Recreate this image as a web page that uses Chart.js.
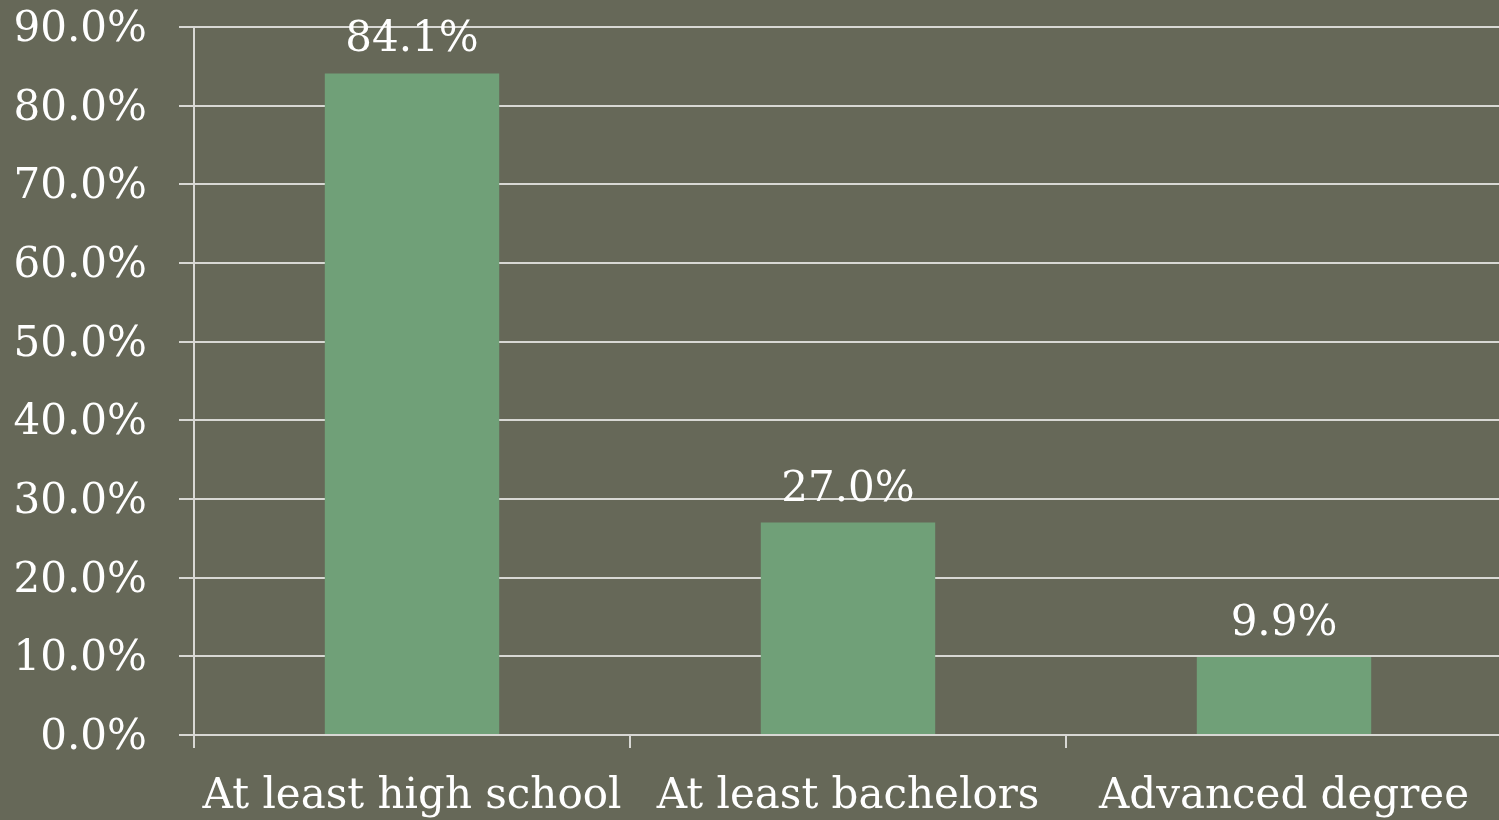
<!DOCTYPE html>
<html lang="en">
<head>
    <meta charset="UTF-8">
    <title>Educational attainment</title>
    <script src="https://cdn.jsdelivr.net/npm/chart.js"></script>
    <style>
        html, body { margin: 0; padding: 0; background: #666858; overflow: hidden; }
        .wrap { width: 1502px; height: 820px; }
    </style>
</head>
<body>
    <div class="wrap"><canvas id="eduChart"></canvas></div>

    <script>
        // 학력별 비율 데이터
        const categories = ['At least high school', 'At least bachelors', 'Advanced degree'];
        const shares = [84.1, 27.0, 9.9];
        const yTicks = [0, 10, 20, 30, 40, 50, 60, 70, 80, 90];

        const FONT = '"DejaVu Serif", serif';
        const gridColor = '#d8d8d4';

        // 막대 위에 값 표시
        const valueLabels = {
            id: 'valueLabels',
            afterDatasetsDraw(chart) {
                const ctx = chart.ctx;
                const meta = chart.getDatasetMeta(0);
                ctx.save();
                ctx.fillStyle = '#ffffff';
                ctx.font = '42px ' + FONT;
                ctx.textAlign = 'center';
                ctx.textBaseline = 'alphabetic';
                meta.data.forEach((bar, i) => {
                    ctx.fillText(shares[i].toFixed(1) + '%', bar.x, bar.y - 22);
                });
                ctx.restore();
            }
        };

        const ctx = document.getElementById('eduChart').getContext('2d');
        new Chart(ctx, {
            type: 'bar',
            data: {
                labels: categories,
                datasets: [{
                    data: shares,
                    backgroundColor: '#70a078',
                    categoryPercentage: 1.0,
                    barPercentage: 0.4
                }]
            },
            options: {
                responsive: true,
                maintainAspectRatio: false,
                animation: false,
                layout: { padding: { top: 27, right: 0, bottom: 0, left: 0 } },
                plugins: {
                    legend: { display: false },
                    tooltip: { enabled: false }
                },
                scales: {
                    x: {
                        offset: true,
                        grid: {
                            offset: true,
                            drawOnChartArea: false,
                            drawTicks: true,
                            tickLength: 13,
                            color: gridColor,
                            lineWidth: 2
                        },
                        border: { display: true, color: gridColor, width: 2 },
                        ticks: {
                            color: '#ffffff',
                            font: { family: FONT, size: 42 },
                            padding: 24,
                            maxRotation: 0,
                            autoSkip: false
                        },
                        afterFit(scale) {
                            scale.height = 85;
                            scale.paddingLeft = 0;
                            scale.paddingRight = 0;
                        }
                    },
                    y: {
                        min: 0,
                        max: 90,
                        afterBuildTicks(scale) {
                            scale.ticks = yTicks.map(v => ({ value: v }));
                        },
                        grid: {
                            color: gridColor,
                            lineWidth: 2,
                            tickLength: 15
                        },
                        border: { display: true, color: gridColor, width: 2 },
                        ticks: {
                            color: '#ffffff',
                            font: { family: FONT, size: 42 },
                            padding: 32,
                            labelOffset: 3,
                            callback: v => v.toFixed(1) + '%'
                        },
                        afterFit(scale) {
                            scale.width = 194;
                            scale.paddingTop = 0;
                            scale.paddingBottom = 0;
                        }
                    }
                }
            },
            plugins: [valueLabels]
        });
    </script>
</body>
</html>
